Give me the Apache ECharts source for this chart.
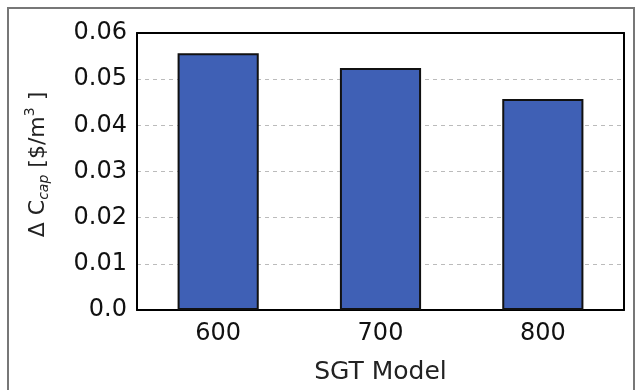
<!DOCTYPE html>
<html><head><meta charset="utf-8">
<script src="https://cdn.jsdelivr.net/npm/echarts@6/dist/echarts.min.js"></script>
<style>html,body{margin:0;padding:0;background:#fff}#c{width:643px;height:390px}</style>
</head><body><div id="c"></div>
<script>
const categories = ['600', '700', '800'];
const values = [0.0556, 0.0524, 0.0457];
const yTicks = [0, 0.01, 0.02, 0.03, 0.04, 0.05, 0.06];

const chart = echarts.init(document.getElementById('c'));
const font = 'DejaVu Sans';
const frameLine = { show: true, onZero: false, lineStyle: { color: '#000', width: 2 } };
chart.setOption({
  animation: false,
  backgroundColor: '#fff',
  grid: { left: 137, top: 33, right: 19, bottom: 79 },
  graphic: [{
    type: 'rect', shape: { x: 8, y: 8, width: 626, height: 400 },
    style: { fill: 'none', stroke: '#777', lineWidth: 2 }, silent: true
  }],
  xAxis: [{
    type: 'category', data: categories,
    name: 'SGT Model', nameLocation: 'middle', nameGap: 50,
    nameTextStyle: { fontFamily: font, fontSize: 25, color: '#222' },
    axisLine: frameLine, axisTick: { show: false },
    axisLabel: { fontFamily: font, fontSize: 24, color: '#111', margin: 12 }
  }, {
    type: 'category', data: categories, position: 'top',
    axisLine: frameLine, axisTick: { show: false }, axisLabel: { show: false }
  }],
  yAxis: [{
    type: 'value', min: 0, max: 0.06, interval: 0.01,
    axisLine: frameLine, axisTick: { show: false },
    axisLabel: { fontFamily: font, fontSize: 24, color: '#111', margin: 10,
      formatter: v => { const t = yTicks.find(x => Math.abs(x - v) < 1e-9); return t === 0 ? '0.0' : (t !== undefined ? t.toFixed(2) : ''); } },
    splitLine: { show: true, lineStyle: { color: '#bbb', type: [4, 4], width: 1 } },
    name: '{a|Δ C}{s|cap}{a| [$/m}{p|3}{a| ]}', nameLocation: 'middle', nameGap: 84, nameRotate: 90,
    nameTextStyle: {
      padding: [0, 0, 0, 14],
      rich: {
        a: { fontFamily: font, fontSize: 22, color: '#222', lineHeight: 26, verticalAlign: 'middle' },
        s: { fontFamily: font, fontSize: 14, fontStyle: 'italic', color: '#222', padding: [13, 0, 0, 0], verticalAlign: 'middle' },
        p: { fontFamily: font, fontSize: 14, color: '#222', padding: [0, 0, 16, 0], verticalAlign: 'middle' }
      }
    }
  }, {
    type: 'value', min: 0, max: 0.06, interval: 0.01, position: 'right',
    axisLine: frameLine, axisTick: { show: false }, axisLabel: { show: false }, splitLine: { show: false }
  }],
  series: [{
    type: 'bar', data: values, barWidth: '50%',
    itemStyle: { color: '#3f60b5', borderColor: '#111', borderWidth: 2 }
  }]
});
</script></body></html>
